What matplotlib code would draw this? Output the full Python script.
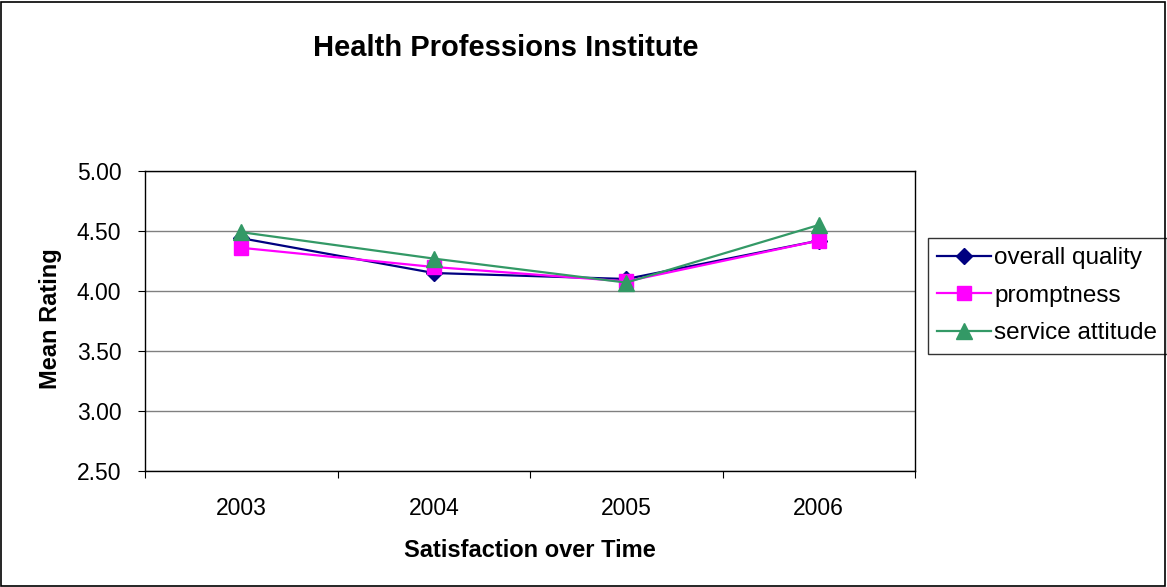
import matplotlib
matplotlib.use("Agg")
import matplotlib.pyplot as plt
from matplotlib.patches import Rectangle

plt.rcParams['font.family'] = ['Liberation Sans', 'DejaVu Sans']

years = ["2003", "2004", "2005", "2006"]
overall_quality = [4.44, 4.15, 4.10, 4.42]
promptness = [4.36, 4.20, 4.08, 4.42]
service_attitude = [4.49, 4.27, 4.07, 4.55]
yvals = [2.5, 3.0, 3.5, 4.0, 4.5, 5.0]

fig = plt.figure(figsize=(11.67, 5.87), dpi=100)
ax = fig.add_axes([0.1243, 0.1976, 0.6598, 0.5111])

x = [i + 0.5 for i in range(len(years))]
ax.plot(x, overall_quality, color='#000080', marker='D', markersize=8, lw=1.6, label='overall quality')
ax.plot(x, promptness, color='#FF00FF', marker='s', markersize=10, lw=1.6, label='promptness')
ax.plot(x, service_attitude, color='#339966', marker='^', markersize=11, lw=1.6, label='service attitude')

ax.set_xlim(0, 4)
ax.set_ylim(2.5, 5.0)
ax.set_yticks(yvals)
ax.set_yticklabels([f"{v:.2f}" for v in yvals], fontsize=16.5)
ax.set_xticks([0, 1, 2, 3, 4])
ax.set_xticklabels([])
ax.set_xticks(x, minor=True)
ax.set_xticklabels(years, minor=True, fontsize=16.5)
ax.tick_params(axis='x', which='minor', length=0, pad=19)
ax.tick_params(axis='x', which='major', length=5, direction='out')
ax.tick_params(axis='y', length=5, direction='out', pad=12)
ax.yaxis.grid(True, color='#808080', lw=1)
ax.set_axisbelow(True)
for s in ax.spines.values():
    s.set_color('black')
    s.set_linewidth(1)

fig.text(0.043, 0.457, "Mean Rating", fontsize=17, fontweight='bold', rotation=90, ha='center', va='center')
fig.text(0.454, 0.063, "Satisfaction over Time", fontsize=17, fontweight='bold', ha='center', va='center')
fig.text(0.433, 0.918, "Health Professions Institute", fontsize=21, fontweight='bold', ha='center', va='center')

leg = ax.legend(loc='upper left', bbox_to_anchor=(928 / 1167, 1 - 238 / 587), bbox_transform=fig.transFigure,
                fontsize=17.5, frameon=True, fancybox=False, edgecolor='black', borderpad=0.38,
                handlelength=2.2, handletextpad=0.15, labelspacing=0.64, borderaxespad=0)
leg.get_frame().set_linewidth(1)

fig.patches.append(Rectangle((0.001, 0.002), 0.997, 0.995, transform=fig.transFigure,
                             fill=False, edgecolor='black', lw=1.2))

fig.savefig("out.png", dpi=100)
